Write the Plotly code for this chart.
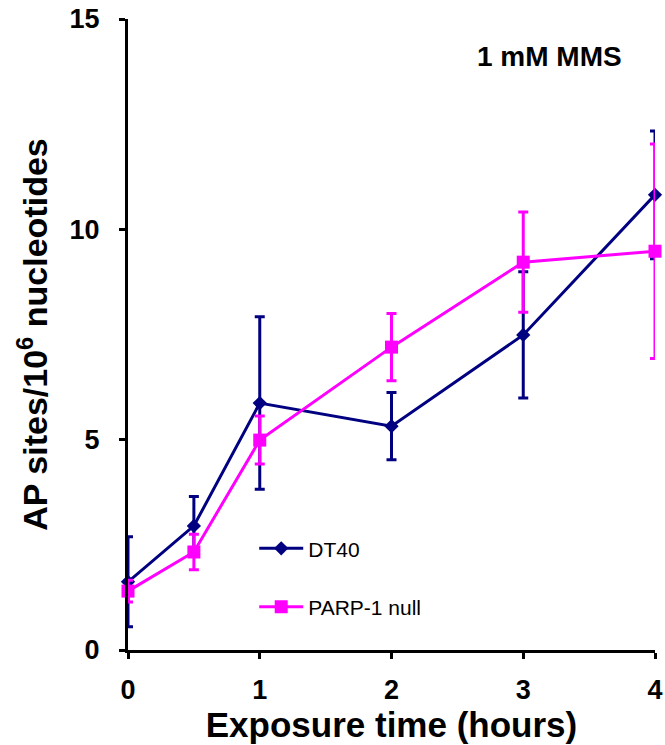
import plotly.graph_objects as go

hours = [0, 0.5, 1, 2, 3, 4]
dt40 = [1.62, 2.95, 5.87, 5.32, 7.49, 10.82]
dt40_err = [1.07, 0.70, 2.05, 0.80, 1.50, 1.52]
parp = [1.40, 2.33, 4.99, 7.20, 9.22, 9.48]
parp_err = [0.26, 0.42, 0.57, 0.80, 1.19, 2.55]
x_ticks = [0, 1, 2, 3, 4]
y_ticks = [0, 5, 10, 15]

NAVY = "#000080"
MAGENTA = "#FF00FF"
FONT = "Liberation Sans, Arial, sans-serif"

fig = go.Figure()
fig.add_trace(go.Scatter(
    x=hours, y=dt40, name="DT40", mode="lines+markers",
    line=dict(color=NAVY, width=3),
    marker=dict(symbol="diamond", size=11, color=NAVY),
    error_y=dict(type="data", array=dt40_err, color=NAVY, thickness=3, width=5),
    cliponaxis=False, legendgroup="a",
))
fig.add_trace(go.Scatter(
    x=hours, y=parp, name="PARP-1 null", mode="lines+markers",
    line=dict(color=MAGENTA, width=3),
    marker=dict(symbol="square", size=13, color=MAGENTA),
    error_y=dict(type="data", array=parp_err, color=MAGENTA, thickness=3, width=5),
    cliponaxis=False, legendgroup="b",
))

fig.add_annotation(
    text="<b>1 mM MMS</b>", xref="paper", yref="paper",
    x=0.80, y=0.94, xanchor="center", yanchor="middle", showarrow=False,
    font=dict(family=FONT, size=28, color="black"),
)

fig.update_layout(
    width=665, height=745,
    margin=dict(l=128, r=10, t=19, b=95, autoexpand=False),
    paper_bgcolor="white", plot_bgcolor="white",
    font=dict(family=FONT, color="black"),
    showlegend=True,
    legend=dict(
        x=0.2395, y=0.193, xanchor="left", yanchor="top",
        bgcolor="rgba(0,0,0,0)", tracegroupgap=28,
        traceorder="grouped", itemwidth=44,
        font=dict(family=FONT, size=21, color="black"),
    ),
    xaxis=dict(
        range=[0, 4], tickvals=x_ticks, ticktext=[str(v) for v in x_ticks],
        automargin=False,
        showgrid=False, zeroline=False, showline=True, linecolor="black", linewidth=3,
        ticks="outside", ticklen=6, tickwidth=3, tickcolor="black",
        tickfont=dict(family=FONT, size=27, color="black", weight="bold"),
        ticklabelstandoff=8, ticklabeloverflow="allow",
        title=dict(text="<b>Exposure time (hours)</b>", font=dict(family=FONT, size=35, color="black"), standoff=0),
    ),
    yaxis=dict(
        range=[0, 15], tickvals=y_ticks, ticktext=[str(v) for v in y_ticks],
        automargin=False,
        showgrid=False, zeroline=False, showline=True, linecolor="black", linewidth=3,
        ticks="outside", ticklen=6, tickwidth=3, tickcolor="black",
        tickfont=dict(family=FONT, size=27, color="black", weight="bold"),
        ticklabelstandoff=14, ticklabeloverflow="allow",
        title=dict(text="<b>AP sites/10<sup>6</sup> nucleotides</b>", font=dict(family=FONT, size=34, color="black"), standoff=12),
    ),
)

fig.write_html(
    "out.html",
    config={"displayModeBar": False},
    post_script="document.body.style.margin='0';document.body.style.overflow='hidden';",
)
